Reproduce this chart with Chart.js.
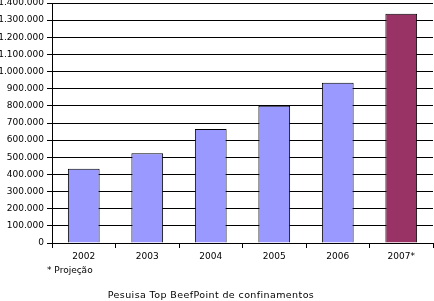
<!DOCTYPE html>
<html><head><meta charset="utf-8">
<script src="https://cdn.jsdelivr.net/npm/chart.js@4/dist/chart.umd.min.js"></script>
<style>html,body{margin:0;padding:0;background:#fff}#wrap{width:434px;height:301px;position:relative}</style>
</head><body><div id="wrap"><canvas id="c" width="434" height="301"></canvas></div>
<script>
const categories = ["2002","2003","2004","2005","2006","2007*"];
const values = [433000, 523000, 665000, 800000, 935000, 1338000];
const barColors = ["#9999FF","#9999FF","#9999FF","#9999FF","#9999FF","#993366"];
const yTicks = [0,100000,200000,300000,400000,500000,600000,700000,800000,900000,1000000,1100000,1200000,1300000,1400000];
const footnote = "* Projeção";
const title = "Pesuisa Top BeefPoint de confinamentos";
const FONT = "DejaVu Sans";

function fmt(v){return v.toString().replace(/\B(?=(\d{3})+(?!\d))/g,".");}

const extraText = {
  id:'extraText',
  afterDraw(chart){
    const ctx = chart.ctx;
    ctx.save();
    ctx.fillStyle = '#000';
    ctx.font = '9px "'+FONT+'"';
    ctx.textBaseline = 'middle';
    ctx.textAlign = 'left';
    ctx.fillText(footnote, 47, 271);
    ctx.font = '9.5px "'+FONT+'"';
    ctx.letterSpacing = '0.4px';
    ctx.textAlign = 'center';
    ctx.fillText(title, 211, 296);
    ctx.restore();
  }
};

new Chart(document.getElementById('c'), {
  type:'bar',
  data:{labels:categories, datasets:[{data:values, backgroundColor:barColors, borderColor:'#000', borderWidth:1, barPercentage:0.5, categoryPercentage:1}]},
  options:{
    responsive:false, animation:false, devicePixelRatio:1,
    layout:{padding:{top:3,right:1,left:0,bottom:0}},
    plugins:{legend:{display:false}, tooltip:{enabled:false}},
    scales:{
      x:{
        grid:{drawOnChartArea:false, drawTicks:true, tickLength:5, color:'#000', offset:true},
        border:{color:'#000'},
        ticks:{color:'#000', font:{family:FONT,size:9}, padding:3, maxRotation:0},
        afterFit(s){s.height=58; s.paddingLeft=0; s.paddingRight=0;}
      },
      y:{
        min:0, max:1400000,
        afterBuildTicks(s){s.ticks = yTicks.map(v=>({value:v}));},
        grid:{color:'#000', tickLength:5},
        border:{color:'#000'},
        ticks:{color:'#000', font:{family:FONT,size:9}, padding:3, callback:(v)=>fmt(v)},
        afterFit(s){s.width=52; s.paddingTop=0; s.paddingBottom=0;}
      }
    }
  },
  plugins:[extraText]
});
</script></body></html>
